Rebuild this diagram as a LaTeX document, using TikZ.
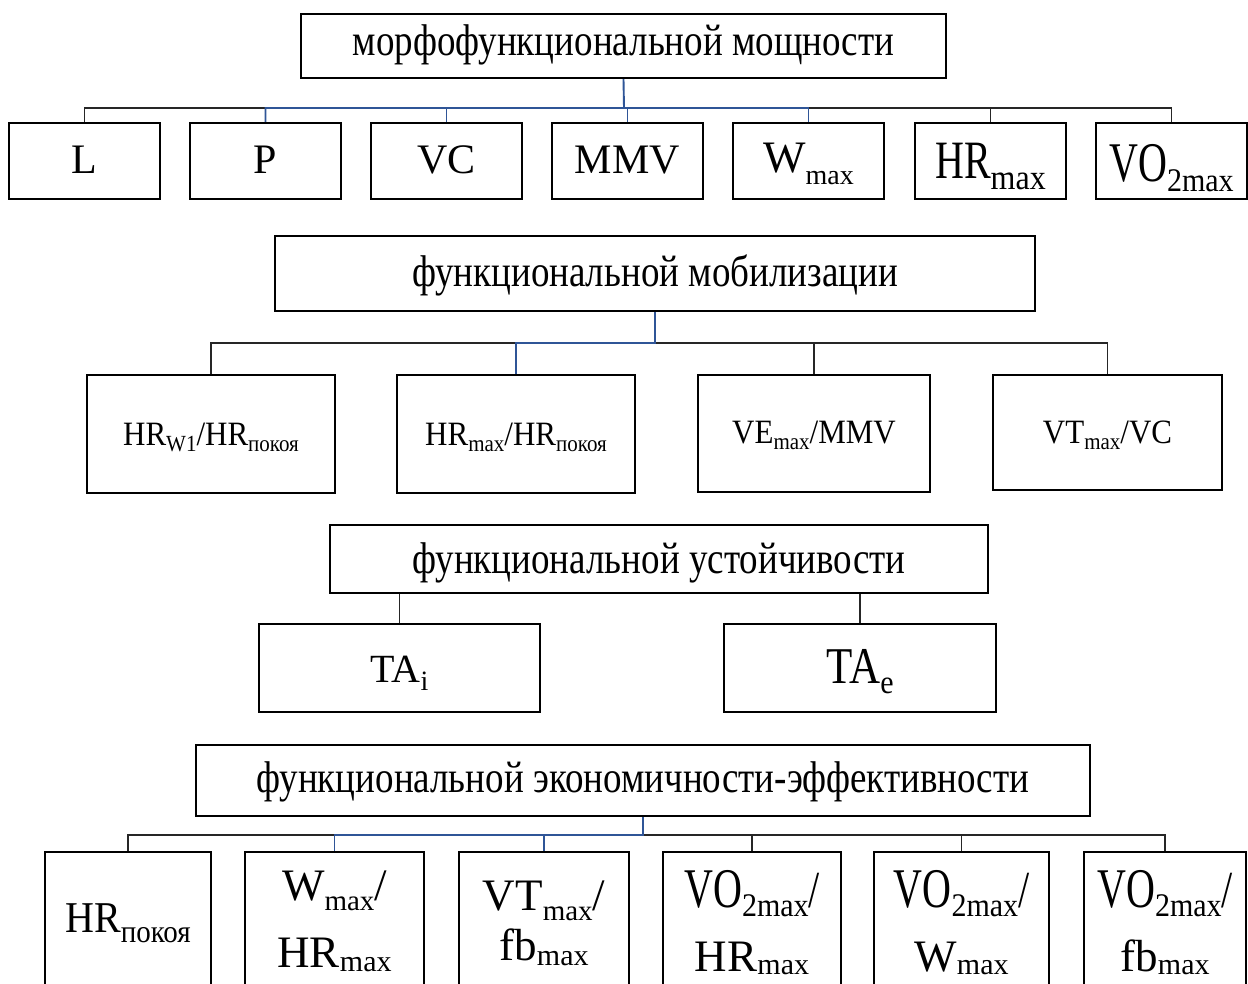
\documentclass[tikz,border=0pt]{standalone}
\usepackage{fontspec}
\setmainfont{Liberation Serif}
\usepackage{graphicx}
\definecolor{bluec}{RGB}{47,85,151}
\newcommand\fsz[3]{{\fontsize{#1pt}{#1pt}\selectfont\scalebox{1}[#2]{#3}}}
\newcommand\lo[3]{\raisebox{-#1pt}{\fontsize{#2pt}{#2pt}\selectfont #3}}
\newcommand\los[4]{\raisebox{-#1pt}{\fontsize{#2pt}{#2pt}\selectfont\scalebox{1}[#3]{#4}}}
\newcommand\one[2]{\raisebox{0pt}[\dimexpr#1pt*2\relax][0pt]{\makebox[0pt]{#2}}}
\newcommand\two[4]{\raisebox{0pt}[\dimexpr#1pt*2\relax][0pt]{\makebox[0pt]{\makebox[0pt]{\raisebox{#2pt}{\makebox[0pt]{#3}}}\makebox[0pt]{#4}}}}
\tikzset{
  bx/.style={draw, line width=2.4pt, inner sep=0pt, fill=none},
  rowone/.style={bx, minimum width=151, minimum height=76},
  rowfour/.style={bx, minimum height=136},
  blk/.style={line width=1.3pt, black!85},
  blu/.style={line width=1.9pt, bluec},
}
\begin{document}
\begin{tikzpicture}[x=1pt,y=-1pt]
\clip (0,0) rectangle (1248,983);
\fill[white] (0,0) rectangle (1248,983);
% ---- group 1
\node[bx, minimum width=645, minimum height=64] (T1) at (623.5,46) {\one{9}{\fsz{37}{1.2}{морфофункциональной мощности}}};
\node[rowone] (L)  at (84.5,161)  {\one{12}{\fsz{42}{1}{L}}};
\node[rowone] (P)  at (265.5,161) {\one{12}{\fsz{42}{1}{P}}};
\node[rowone] (VC) at (446.5,161) {\one{12}{\fsz{42}{1}{VC}}};
\node[rowone] (MMV) at (627.5,161) {\one{12}{\fsz{42}{1}{MMV}}};
\node[rowone] (W)  at (808.5,161) {\one{11}{\fsz{45}{1}{W}\lo{12}{28}{max}}};
\node[rowone] (HR) at (990.5,161) {\one{17}{\fsz{40}{1.35}{HR}\los{11}{32}{1.1}{max}}};
\node[rowone] (VO) at (1171.5,161) {\one{20}{\fsz{40}{1.4}{VO}\los{10}{30}{1.1}{2max}}};
\coordinate (j1) at (624,108);
\draw[blk] (L.north) |- (j1) -| (VO.north);
\draw[blk] (j1) -| (HR.north);
\draw[blu] (T1.south) -- (j1) -| (P.north);
\draw[blu] (j1) -| (VC.north);
\draw[blu] (j1) -| (MMV.north);
\draw[blu] (j1) -| (W.north);
% ---- group 2
\node[bx, minimum width=760, minimum height=75] (T2) at (655,273.5) {\one{12.5}{\fsz{37}{1.2}{функциональной мобилизации}}};
\node[bx, minimum width=248, minimum height=118] (B21) at (211,434) {\one{11}{\fsz{31}{1.1}{HR\lo{6}{21}{W1}/HR\lo{6}{21}{покоя}}}};
\node[bx, minimum width=238, minimum height=118] (B22) at (516,434) {\one{11}{\fsz{31}{1.1}{HR\lo{6}{21}{max}/HR\lo{6}{21}{покоя}}}};
\node[bx, minimum width=232, minimum height=117] (B23) at (814,433.5) {\one{9.5}{\fsz{31}{1.1}{VE\lo{6}{21}{max}/MMV}}};
\node[bx, minimum width=229, minimum height=115] (B24) at (1107.5,432.5) {\one{10.5}{\fsz{31}{1.1}{VT\lo{6}{21}{max}/VC}}};
\coordinate (j2) at (655,343);
\draw[blk] (B21.north) |- (j2) -| (B24.north);
\draw[blk] (j2) -| (B23.north);
\draw[blu] (T2.south) -- (j2) -| (B22.north);
% ---- group 3
\node[bx, minimum width=658, minimum height=68] (T3) at (659,559) {\one{14}{\fsz{37}{1.2}{функциональной устойчивости}}};
\node[bx, minimum width=281, minimum height=88] (B31) at (399.5,668) {\one{14}{\fsz{40}{1}{TA\lo{8}{28}{i}}}};
\node[bx, minimum width=272, minimum height=88] (B32) at (860,668) {\one{15}{\fsz{43}{1.2}{TA}\los{10}{30}{1.1}{e}}};
\draw[blk] (T3.south -| B31.north) -- (B31.north);
\draw[blk] (T3.south -| B32.north) -- (B32.north);
% ---- group 4
\node[bx, minimum width=894, minimum height=71] (T4) at (643,780.5) {\one{11.5}{\fsz{37}{1.2}{функциональной экономичности-эффективности}}};
\node[rowfour, minimum width=166] (B41) at (128,920) {\one{12}{\fsz{40}{1.1}{HR}\los{10}{29}{1.1}{покоя}}};
\node[rowfour, minimum width=179] (B42) at (334.5,920) {\two{47}{67}{\fsz{45}{1}{W\lo{10}{29}{max}/}}{\fsz{45}{1}{HR\lo{4}{30}{max}}}};
\node[rowfour, minimum width=170] (B43) at (544,920) {\two{40}{50}{\fsz{45}{1}{VT\lo{10}{29}{max}/}}{\fsz{45}{1}{fb\lo{5}{30}{max}}}};
\node[rowfour, minimum width=178] (B44) at (752,920) {\two{51}{64}{\fsz{40}{1.4}{VO}\los{9}{30}{1.1}{2max}\fsz{40}{1.3}{/}}{\fsz{45}{1}{HR\lo{3}{30}{max}}}};
\node[rowfour, minimum width=175] (B45) at (961.5,920) {\two{51}{64}{\fsz{40}{1.4}{VO}\los{9}{30}{1.1}{2max}\fsz{40}{1.3}{/}}{\fsz{45}{1}{W\lo{3}{30}{max}}}};
\node[rowfour, minimum width=162] (B46) at (1165,920) {\two{51}{64}{\fsz{40}{1.4}{VO}\los{9}{30}{1.1}{2max}\fsz{40}{1.3}{/}}{\fsz{45}{1}{fb\lo{3}{30}{max}}}};
\coordinate (j4) at (643,835);
\draw[blk] (B41.north) |- (j4) -| (B46.north);
\draw[blk] (j4) -| (B44.north);
\draw[blk] (j4) -| (B45.north);
\draw[blu] (T4.south) -- (j4) -| (B42.north);
\draw[blu] (j4) -| (B43.north);
\end{tikzpicture}
\end{document}
